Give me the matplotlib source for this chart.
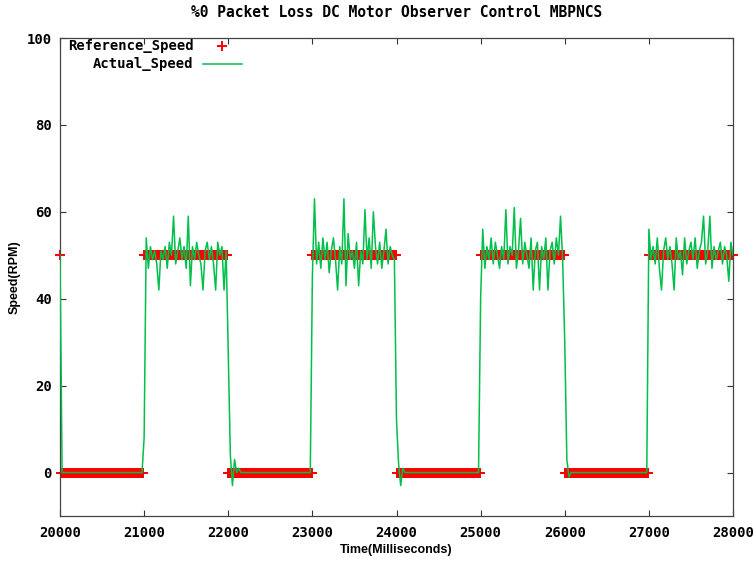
import numpy as np
import matplotlib
matplotlib.use('Agg')
import matplotlib.pyplot as plt

# sampling grid for the measured speed: one sample every 25 ms
t_start, t_end, t_step = 20000, 28000, 25
# the set point is logged every 10 ms
ref_step = 10

# reference speed level for each 1000 ms interval, first sample still at the old set point
ref_levels = [0, 50, 0, 50, 0, 50, 0, 50]
ref_first = 50
ref_last = 50

# measured speed, 40 samples per 1000 ms interval
act_lo0 = [50, 0] + [0] * 38
act_hi1 = [8, 54, 47, 52, 49, 51, 48, 42, 51, 49,
           52, 47, 53, 50, 59, 48, 51, 54, 49, 52,
           47, 59, 43, 52, 49, 53, 50, 48, 42, 51,
           53, 49, 52, 48, 42, 53, 50, 52, 42, 51]
act_lo2 = [28, 4, -3, 3, 0, 1] + [0] * 34
act_hi3 = [45, 63, 48, 53, 47, 54, 49, 53, 46, 51,
           54, 49, 42, 52, 48, 63, 43, 55, 49, 51,
           47, 53, 43, 51, 48, 60.5, 49, 54, 47, 60,
           52, 48, 53, 47, 51, 56, 48, 52, 50, 49]
act_lo4 = [12, 2, -3, 1, 0] + [0] * 35
act_hi5 = [40, 56, 47, 52, 49, 54, 48, 53, 50, 47,
           52, 49, 60.5, 48, 52, 50, 61, 47, 51, 58.5,
           48, 53, 50, 47, 54, 42, 51, 53, 42, 52,
           49, 54, 42, 51, 53, 48, 54, 50, 59, 49]
act_lo6 = [30, 3, -1] + [0] * 37
act_hi7 = [56, 49, 52, 48, 54, 47, 42, 51, 54, 49,
           52, 48, 42, 54, 49, 51, 45.5, 54, 48, 51,
           53, 49, 54, 47, 51, 53, 59, 48, 51, 59,
           47, 52, 49, 51, 53, 48, 52, 50, 44, 53]
act_last = 50

t = np.arange(t_start, t_end + 1, t_step)
t_ref = np.arange(t_start, t_end + 1, ref_step)

per_interval = 1000 // ref_step
ref = np.append(np.repeat(ref_levels, per_interval), ref_last).astype(float)
ref[0] = ref_first

act = np.array(act_lo0 + act_hi1 + act_lo2 + act_hi3 +
               act_lo4 + act_hi5 + act_lo6 + act_hi7 + [act_last], dtype=float)

fig = plt.figure(figsize=(7.56, 5.68), dpi=100)
ax = fig.add_axes([60 / 756, 1 - 516 / 568, 673 / 756, 478 / 568])

red = '#ff0000'
green = '#00c04a'

ax.plot(t_ref, ref, linestyle='none', marker='+', color=red,
        markersize=6.5, markeredgewidth=1.4, clip_on=False, zorder=2)
ax.plot(t, act, color=green, linewidth=1.1, zorder=3)

ax.set_xlim(t_start, t_end)
ax.set_ylim(-10, 100)
ax.set_xticks(np.arange(20000, 28001, 1000))
ax.set_yticks(np.arange(0, 101, 20))

tick_font = dict(family='DejaVu Sans Mono', weight='bold', size=10)
ax.tick_params(direction='in', length=4, width=0.8, top=True, right=True,
               colors='#333333', labelcolor='black')
ax.tick_params(axis='x', pad=7)
ax.tick_params(axis='y', pad=6)
for lab in ax.get_xticklabels() + ax.get_yticklabels():
    lab.set_fontproperties(tick_font)
for sp in ax.spines.values():
    sp.set_color('#444444')
    sp.set_linewidth(0.9)

ax.set_xlabel('Time(Milliseconds)', family='Liberation Sans', weight='bold',
              fontsize=9, labelpad=3)
ax.set_ylabel('Speed(RPM)', family='Liberation Sans', weight='bold',
              fontsize=9, labelpad=4)
ax.set_title('%0 Packet Loss DC Motor Observer Control MBPNCS',
             family='DejaVu Sans Mono', weight='semibold', fontsize=10.5, pad=15)

# key in the top left corner: right-justified text, sample to the right
key_x = 0.198
ax.text(key_x, 0.983, 'Reference_Speed', transform=ax.transAxes, ha='right',
        va='center', **tick_font)
ax.text(key_x, 0.946, 'Actual_Speed', transform=ax.transAxes, ha='right',
        va='center', **tick_font)
ax.plot([0.241], [0.983], transform=ax.transAxes, linestyle='none', marker='+',
        color=red, markersize=6.5, markeredgewidth=1.4)
ax.plot([0.212, 0.270], [0.946, 0.946], transform=ax.transAxes, color=green,
        linewidth=1.1)

fig.savefig('out.png', dpi=100)
